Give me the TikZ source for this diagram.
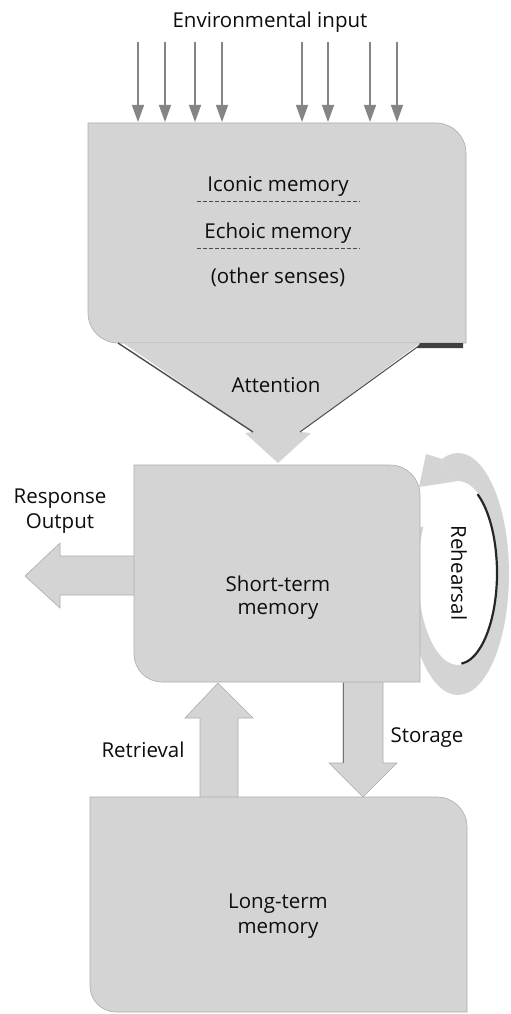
\documentclass[tikz,border=0pt]{standalone}
\usepackage{fontspec}
\setmainfont{Open Sans}
\usetikzlibrary{arrows.meta}
\begin{document}
\begin{tikzpicture}[x=1pt,y=-1pt,
  panel/.style={fill=black!17, draw=black!32, line width=0.6pt},
  blockarrow/.style={fill=black!17, draw=black!32, line width=0.6pt, line join=miter},
  txt/.style={font=\fontsize{20.5}{24}\selectfont, text=black!95, inner sep=0pt, anchor=base},
  inarrow/.style={draw=black!48, line width=1.5pt, -{Triangle[length=17pt,width=12pt]}},
  sep/.style={draw=black!70, line width=0.8pt, dash pattern=on 4pt off 2pt},
  edgeshade/.style={draw=black!70, line width=1pt},
]
% canvas
\fill[white] (0,0) rectangle (511,1014);
\useasboundingbox (0,0) rectangle (511,1014);

% environmental input arrows
\foreach \x [count=\i] in {138,165,195,222,302,328,370,397} {
  \coordinate (in\i) at (\x,42);
  \coordinate (inend\i) at (\x,122);
  \draw[inarrow] (in\i) -- (inend\i);
}

% sensory register
\path[panel] (88,123) -- (436,123) arc[start angle=-90, end angle=0, radius=30]
  -- (466,343) -- (118,343) arc[start angle=90, end angle=180, radius=30] -- cycle;

% attention funnel
\fill[black!17] (123,343) -- (420,343) -- (300,432) -- (311,433) -- (278,463)
  -- (245,433) -- (253,432) -- cycle;
\draw[edgeshade, line width=1.4pt] (118,343) -- (253,432);
\draw[edgeshade] (420,345) -- (300,432);
\fill[black!75] (420,343) -- (463,343) -- (463,348) -- (417,348) -- cycle;

% rehearsal loop
\begin{scope}
  \clip (433.7,440) -- (520,440) -- (520,705) -- (400,705) -- (400,530) -- (468.5,520) -- cycle;
  \fill[black!17, even odd rule] (458,574) ellipse[x radius=51, y radius=121]
    (458,573) ellipse[x radius=40, y radius=92];
\end{scope}
\fill[black!17] (442,459) -- (426,454) -- (419,487) -- (452,482) -- cycle;
\draw[black!85, line width=2.2pt] (458,573) ++(-60:39 and 91)
  arc[start angle=-60, end angle=85, x radius=39, y radius=91];

% response output arrow
\path[blockarrow] (135,556) -- (60,556) -- (60,543) -- (25,576) -- (60,608) -- (60,595) -- (135,595);

% retrieval arrow
\path[blockarrow] (200,798) -- (200,718) -- (185,718) -- (218,683) -- (253,718) -- (238,718) -- (238,798);

% storage arrow
\path[blockarrow] (343,681) -- (343,763) -- (329,763) -- (363,797) -- (397,763) -- (383,763) -- (383,681);
\draw[black!55, line width=0.9pt] (343,683) -- (343,763);

% short-term store
\path[panel] (134,465) -- (390,465) arc[start angle=-90, end angle=0, radius=30]
  -- (420,682) -- (162,682) arc[start angle=90, end angle=180, radius=28] -- cycle;

% long-term store
\path[panel] (90,797) -- (437,797) arc[start angle=-90, end angle=0, radius=30]
  -- (467,1012) -- (116,1012) arc[start angle=90, end angle=180, radius=26] -- cycle;

% separators in the sensory register
\coordinate (s1a) at (197,201); \coordinate (s1b) at (360,201);
\coordinate (s2a) at (197,248); \coordinate (s2b) at (360,248);
\draw[sep] (s1a) -- (s1b);
\draw[sep] (s2a) -- (s2b);

% labels
\node[txt] (env) at (270,28) {Environmental input};
\node[txt] (icon) at (278,191) {Iconic memory};
\node[txt] (echo) at (278,238) {Echoic memory};
\node[txt] (other) at (278,283) {(other senses)};
\node[txt] (att) at (276,392) {Attention};
\node[txt] (resp) at (60,503) {Response};
\node[txt] (outp) at (60,528) {Output};
\node[txt] (stm1) at (278,591) {Short-term};
\node[txt] (stm2) at (278,614) {memory};
\node[txt, anchor=center, rotate=-90] (reh) at (459,573) {Rehearsal};
\node[txt] (retr) at (143,757) {Retrieval};
\node[txt] (stor) at (427,742) {Storage};
\node[txt] (ltm1) at (278,908) {Long-term};
\node[txt] (ltm2) at (278,933) {memory};
\end{tikzpicture}
\end{document}
